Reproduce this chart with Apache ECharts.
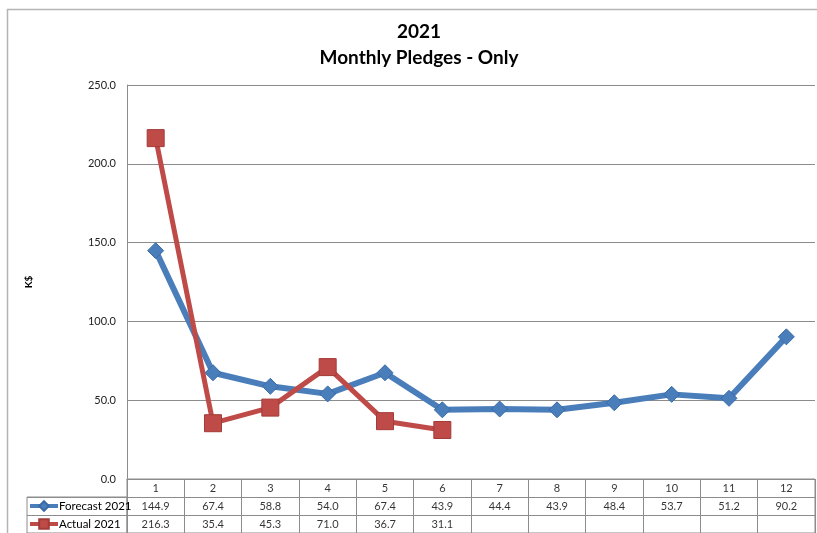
<!DOCTYPE html>
<html>
<head>
<meta charset="utf-8">
<script src="https://cdn.jsdelivr.net/npm/echarts@6/dist/echarts.min.js"></script>
<style>
html,body{margin:0;padding:0;background:#fff;}
#chart{width:817px;height:533px;}
</style>
</head>
<body>
<div id="chart"></div>
<script>
const titleLines = ['2021', 'Monthly Pledges - Only'];
const categories = ['1','2','3','4','5','6','7','8','9','10','11','12'];
const forecast2021 = [144.9, 67.4, 58.8, 54.0, 67.4, 43.9, 44.4, 43.9, 48.4, 53.7, 51.2, 90.2];
const actual2021 = [216.3, 35.4, 45.3, 71.0, 36.7, 31.1, null, null, null, null, null, null];
const seriesNames = ['Forecast 2021', 'Actual 2021'];
const yMin = 0, yMax = 250, yInterval = 50;
const yName = 'K$';

const FONT = 'Lato, "Liberation Sans", sans-serif';
const GRID_C = '#8c8c8c';
const BLUE = '#4A7EBB';
const RED = '#BE4B48';

// table cells: header row (categories), then each series row
const tableRows = ['', seriesNames[0], seriesNames[1]];
const tableCells = [];
categories.forEach((c, i) => {
  tableCells.push([i, 0, c]);
  if (forecast2021[i] != null) tableCells.push([i, 1, forecast2021[i].toFixed(1)]);
  if (actual2021[i] != null) tableCells.push([i, 2, actual2021[i].toFixed(1)]);
});

const legendBase = {
  left: 28,
  itemWidth: 28,
  itemHeight: 12,
  padding: 0,
  lineStyle: {width: 4},
  textStyle: {fontFamily: FONT, fontSize: 11.5, color: '#000', padding: [0, 0, 0, -4]},
  selectedMode: false
};

const chart = echarts.init(document.getElementById('chart'), null, {renderer: 'canvas'});
chart.setOption({
  animation: false,
  textStyle: {fontFamily: FONT},
  title: {
    text: titleLines.join('\n'),
    left: 414,
    top: 14,
    textAlign: 'center',
    textStyle: {fontFamily: FONT, fontSize: 19, fontWeight: 'bold', color: '#000', lineHeight: 26}
  },
  graphic: [{
    type: 'rect', silent: true, z: -1,
    shape: {x: 7.5, y: 9.5, width: 1200, height: 1200},
    style: {fill: 'none', stroke: '#b4b4b4', lineWidth: 1.5}
  }],
  legend: [
    Object.assign({}, legendBase, {data: [seriesNames[0]], top: 500}),
    Object.assign({}, legendBase, {data: [seriesNames[1]], top: 518})
  ],
  grid: [
    {left: 127, right: 2, top: 85, bottom: 54},
    {left: 127, right: 2, top: 479, bottom: 0, show: true, borderColor: GRID_C, borderWidth: 1, backgroundColor: 'transparent'},
    {left: 27, width: 100, top: 497, bottom: 0, show: true, borderColor: GRID_C, borderWidth: 1, backgroundColor: 'transparent'}
  ],
  xAxis: [
    {gridIndex: 0, type: 'category', data: categories, boundaryGap: true,
     axisLine: {show: true, lineStyle: {color: GRID_C}}, axisTick: {show: false}, axisLabel: {show: false}},
    {gridIndex: 1, type: 'category', data: categories, boundaryGap: true,
     axisLine: {show: false}, axisTick: {show: false, interval: 0}, axisLabel: {show: false, interval: 0},
     splitLine: {show: true, interval: 0, lineStyle: {color: GRID_C, width: 1}}},
    {gridIndex: 2, type: 'value', show: false}
  ],
  yAxis: [
    {gridIndex: 0, type: 'value', min: yMin, max: yMax, interval: yInterval,
     name: yName, nameLocation: 'middle', nameGap: 93, nameRotate: 90,
     nameTextStyle: {fontFamily: FONT, fontSize: 10, fontWeight: 'bold', color: '#000'},
     axisLine: {show: true, lineStyle: {color: GRID_C}}, axisTick: {show: false},
     axisLabel: {formatter: v => v.toFixed(1), fontFamily: FONT, fontSize: 11, color: '#222', margin: 11},
     splitLine: {show: true, lineStyle: {color: GRID_C, width: 1}}},
    {gridIndex: 1, type: 'category', data: tableRows, inverse: true, boundaryGap: true,
     axisLine: {show: false}, axisTick: {show: false, interval: 0}, axisLabel: {show: false, interval: 0},
     splitLine: {show: true, interval: 0, lineStyle: {color: GRID_C, width: 1}}},
    {gridIndex: 2, type: 'category', data: seriesNames, inverse: true, boundaryGap: true,
     axisLine: {show: false}, axisTick: {show: false, interval: 0}, axisLabel: {show: false, interval: 0},
     splitLine: {show: true, interval: 0, lineStyle: {color: GRID_C, width: 1}}}
  ],
  series: [
    {name: seriesNames[0], type: 'line', xAxisIndex: 0, yAxisIndex: 0, data: forecast2021,
     symbol: 'diamond', symbolSize: 16, z: 2,
     lineStyle: {color: BLUE, width: 6},
     itemStyle: {color: BLUE, borderColor: '#386AA6', borderWidth: 1}},
    {name: seriesNames[1], type: 'line', xAxisIndex: 0, yAxisIndex: 0, data: actual2021,
     symbol: 'rect', symbolSize: 17, z: 3, connectNulls: false,
     lineStyle: {color: RED, width: 5},
     itemStyle: {color: RED, borderColor: '#A33B38', borderWidth: 1}},
    {name: 'table', type: 'scatter', xAxisIndex: 1, yAxisIndex: 1, data: tableCells,
     symbolSize: 0, silent: true,
     label: {show: true, position: 'inside', formatter: p => p.value[2],
             fontFamily: FONT, fontSize: 11, color: '#000'}}
  ]
});
</script>
</body>
</html>
